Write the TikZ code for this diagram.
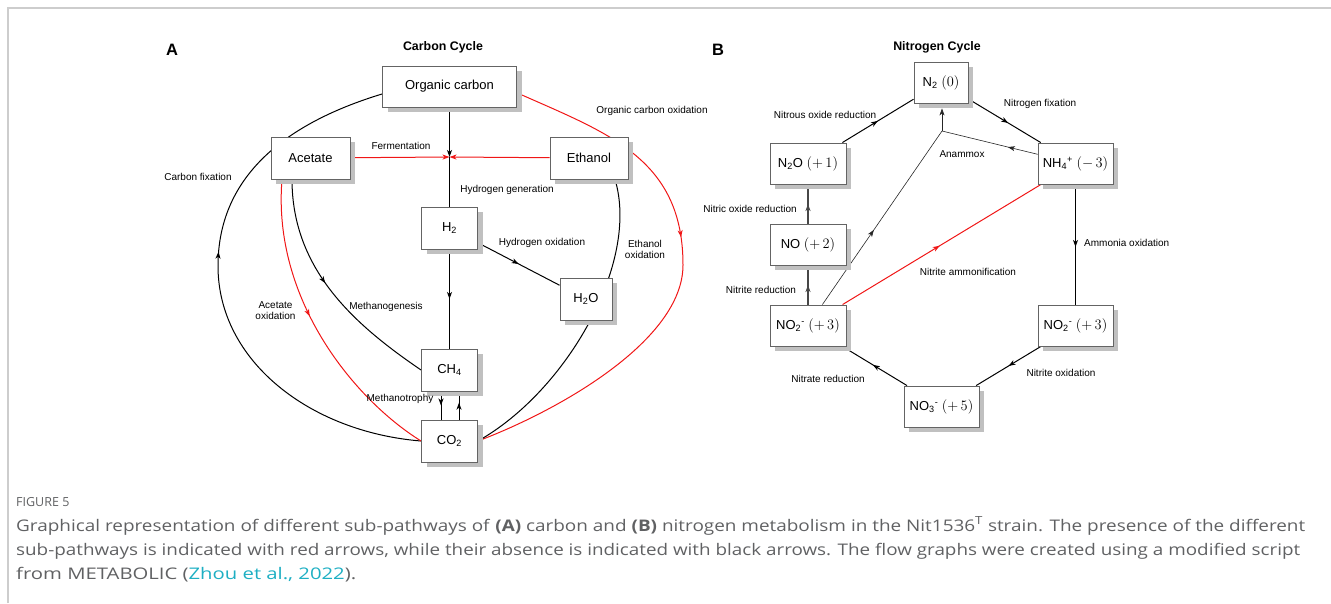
\documentclass[tikz,border=0pt]{standalone}
\usepackage{fontspec}
\setmainfont{Liberation Sans}
\newfontfamily\capfont{Open Sans}
\usetikzlibrary{arrows.meta,decorations.markings,shadows,calc,backgrounds}
\definecolor{boxdraw}{RGB}{100,100,100}
\definecolor{shadowgray}{RGB}{192,192,192}
\definecolor{pathred}{RGB}{240,22,22}
\definecolor{framegray}{RGB}{205,205,205}
\definecolor{captext}{RGB}{96,97,99}
\definecolor{citecol}{RGB}{30,175,195}
\newcommand{\oxstate}[1]{{\fontsize{14.5}{15}\selectfont$(#1)$}}
\tikzset{
  box/.style={draw=boxdraw, line width=0.9pt, fill=white, inner sep=0pt,
    font=\fontsize{13}{15}\selectfont,
    general shadow={fill=shadowgray, shadow xshift=5pt, shadow yshift=-5pt}},
  lbl/.style={inner sep=0pt, font=\fontsize{10}{11.5}\selectfont, align=center},
  blk/.style={color=black, line width=1pt},
  redl/.style={color=pathred, line width=1pt},
  thinl/.style={color=black!85, line width=0.6pt},
  greyl/.style={color=black!72, line width=1.8pt},
  midarrow/.style={postaction={decorate}, decoration={markings,
    mark=at position #1 with {\arrow{Stealth[length=7pt,width=5pt,inset=2pt]}}}},
  endtip/.style={-{Stealth[length=7pt,width=5pt,inset=2pt]}},
  captionline/.style={anchor=base west, inner sep=0pt, text=captext,
    font=\capfont\fontsize{16}{18}\selectfont}
}
\begin{document}
\begin{tikzpicture}[x=1pt,y=-1pt]
\useasboundingbox (0,0) rectangle (1331,603);
\draw[framegray, line width=1.5pt] (8,603) -- (8,8) -- (1331,8);

% titles
\node[inner sep=0pt, font=\bfseries\fontsize{16.5}{18}\selectfont] (pa) at (172,50) {A};
\node[inner sep=0pt, font=\bfseries\fontsize{12.4}{14}\selectfont] (ta) at (443,47) {Carbon Cycle};
\node[inner sep=0pt, font=\bfseries\fontsize{16.5}{18}\selectfont] (pb) at (718,50) {B};
\node[inner sep=0pt, font=\bfseries\fontsize{12.4}{14}\selectfont] (tb) at (937,47) {Nitrogen Cycle};

% carbon boxes
\node[box, minimum width=134pt, minimum height=41pt] (orgc) at (449.5,86.5) {Organic carbon};
\node[box, minimum width=79pt, minimum height=42pt] (acetate) at (310.5,158) {Acetate};
\node[box, minimum width=78pt, minimum height=42pt] (ethanol) at (589,158) {Ethanol};
\node[box, minimum width=56pt, minimum height=42pt] (h2) at (449.5,228) {H\textsubscript{2}};
\node[box, minimum width=52pt, minimum height=42pt] (h2o) at (586,299) {H\textsubscript{2}O};
\node[box, minimum width=56pt, minimum height=42pt] (ch4) at (449.5,370) {CH\textsubscript{4}};
\node[box, minimum width=56pt, minimum height=42pt] (co2) at (449.5,441) {CO\textsubscript{2}};

% nitrogen boxes
\node[box, minimum width=54pt, minimum height=41pt] (n2) at (941,82.5) {N\textsubscript{2} \oxstate{0}};
\node[box, minimum width=76pt, minimum height=41pt] (n2o) at (808,163.5) {N\textsubscript{2}O \oxstate{+\,1}};
\node[box, minimum width=75pt, minimum height=41pt] (nh4) at (1075.5,163.5) {NH\textsubscript{4}\textsuperscript{+} \oxstate{-\,3}};
\node[box, minimum width=76pt, minimum height=41pt] (no) at (808,244.5) {NO \oxstate{+\,2}};
\node[box, minimum width=76pt, minimum height=41pt] (no2l) at (808,325.5) {NO\textsubscript{2}\textsuperscript{-} \oxstate{+\,3}};
\node[box, minimum width=75pt, minimum height=41pt] (no2r) at (1075.5,325.5) {NO\textsubscript{2}\textsuperscript{-} \oxstate{+\,3}};
\node[box, minimum width=75pt, minimum height=41pt] (no3) at (941.5,406.5) {NO\textsubscript{3}\textsuperscript{-} \oxstate{+\,5}};

\begin{scope}[on background layer]
  % carbon connectors
  \coordinate (J) at (449.5,157);
  \draw[blk, endtip] (orgc) -- (J);
  \draw[blk] (J) -- (h2);
  \draw[redl, endtip] (acetate) -- (J);
  \draw[redl, endtip] (ethanol) -- (J);
  \draw[blk, midarrow=0.5] (h2) -- (ch4);
  \draw[blk, midarrow=0.5] (h2) -- (h2o);
  \coordinate (cfL) at (218,266);
  \draw[blk, midarrow=0.56] (co2.west) .. controls (310,432) and (218,361) .. (cfL)
      .. controls (218,180) and (280,125) .. ($(orgc.west)+(0,7.5)$);
  \coordinate (ocR) at (683,265);
  \draw[redl, midarrow=0.42] ($(orgc.east)+(5,8.5)$) .. controls (610,134) and (683,160) .. (ocR)
      .. controls (683,340) and (560,410) .. (co2.east);
  \draw[blk] ($(ethanol.south)+(26,0)$) .. controls (640,262) and (567,391) .. (co2.east);
  \draw[blk, midarrow=0.46] ($(acetate.south)+(-18.5,0)$) .. controls (292,270) and (355,325) .. (ch4.west);
  \draw[redl, midarrow=0.455] ($(acetate.south)+(-28.5,0)$) .. controls (272,300) and (355,400) .. (co2.west);
  \draw[blk, midarrow=0.5] ($(ch4.south)+(-8.5,0)$) -- ($(co2.north)+(-8.5,0)$);
  \draw[blk, midarrow=0.6] ($(co2.north)+(9.5,0)$) -- ($(ch4.south)+(9.5,0)$);

  % nitrogen connectors
  \draw[blk, midarrow=0.5] (n2o) -- (n2);
  \draw[blk, midarrow=0.55] (n2) -- (nh4);
  \coordinate (J2) at (942,131);
  \draw[thinl, midarrow=0.43] (no2l) -- (J2);
  \draw[thinl, midarrow=0.31] (nh4) -- (J2);
  \draw[thinl, endtip] (J2) -- ($(n2.south)+(1,5)$);
  \draw[greyl, midarrow=0.5] (no) -- (n2o);
  \draw[greyl, midarrow=0.5] (no2l) -- (no);
  \draw[redl, midarrow=0.49] (no2l) -- (nh4);
  \draw[blk, midarrow=0.52] (nh4) -- (no2r);
  \draw[blk, midarrow=0.5] (no2r) -- (no3);
  \draw[blk, midarrow=0.53] (no3) -- (no2l);
\end{scope}

% carbon labels
\node[lbl] (lcf) at (198,177) {Carbon fixation};
\node[lbl] (lfe) at (401,146) {Fermentation};
\node[lbl] (lhg) at (507,190) {Hydrogen generation};
\node[lbl] (loc) at (652,111) {Organic carbon oxidation};
\node[lbl] (lho) at (542,243) {Hydrogen oxidation};
\node[lbl] (leo) at (645,249.5) {Ethanol\\oxidation};
\node[lbl] (lao) at (275.5,310.5) {Acetate\\oxidation};
\node[lbl] (lmg) at (386,307) {Methanogenesis};
\node[lbl] (lmt) at (400,399) {Methanotrophy};

% nitrogen labels
\node[lbl] (lnor) at (825,115) {Nitrous oxide reduction};
\node[lbl] (lnf) at (1040,104) {Nitrogen fixation};
\node[lbl] (lan) at (962,154) {Anammox};
\node[lbl] (lnir) at (750,209) {Nitric oxide reduction};
\node[lbl] (lntr) at (761,290) {Nitrite reduction};
\node[lbl] (lna) at (968,272) {Nitrite ammonification};
\node[lbl, anchor=west] (lamo) at (1084,243) {Ammonia oxidation};
\node[lbl] (lnio) at (1061,373) {Nitrite oxidation};
\node[lbl] (lnar) at (828,379) {Nitrate reduction};

% caption
\node[anchor=base west, inner sep=0pt, text=captext, font=\capfont\fontsize{12.5}{14}\selectfont] (fig) at (16,506.5) {FIGURE 5};
\node[captionline] (c1) at (16,531) {\resizebox{1289pt}{\height}{Graphical representation of different sub-pathways of \textbf{(A)} carbon and \textbf{(B)} nitrogen metabolism in the Nit1536\textsuperscript{T} strain. The presence of the different}};
\node[captionline] (c2) at (16,555) {\resizebox{1284pt}{\height}{sub-pathways is indicated with red arrows, while their absence is indicated with black arrows. The flow graphs were created using a modified script}};
\node[captionline] (c3) at (16,579) {\resizebox{340pt}{\height}{from METABOLIC (\textcolor{citecol}{Zhou et al., 2022}).}};
\end{tikzpicture}
\end{document}
